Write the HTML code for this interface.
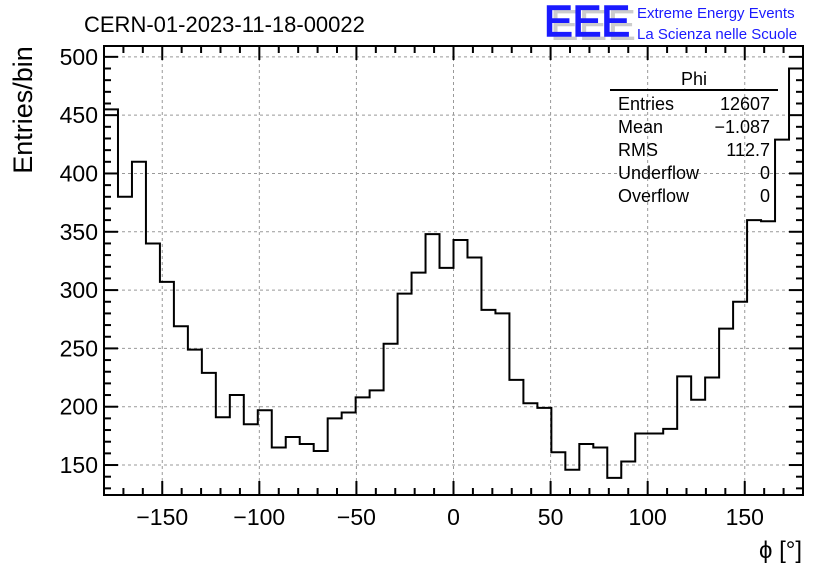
<!DOCTYPE html>
<html><head><meta charset="utf-8"><style>
body{margin:0;background:#fff;}
svg text{font-family:"Liberation Sans",Arial,sans-serif;}
</style></head><body>
<svg id="c" width="836" height="572" xmlns="http://www.w3.org/2000/svg">
<rect width="836" height="572" fill="#fff"/>
<g id="grid"></g>
<path id="hist" fill="none" stroke="#000" stroke-width="2"/>
<g id="axes"></g>
<text x="84" y="32" font-size="22">CERN-01-2023-11-18-00022</text>
<g>
<text x="550" y="40" font-size="44" fill="#ccc" textLength="86" lengthAdjust="spacingAndGlyphs">EEE</text>
<text x="544" y="36" font-size="44" fill="#1a1aff" stroke="#1a1aff" stroke-width="1.5" textLength="86" lengthAdjust="spacingAndGlyphs">EEE</text>
<text x="637" y="18" font-size="15" fill="#1a1aff">Extreme Energy Events</text>
<text x="637" y="39" font-size="15" fill="#1a1aff">La Scienza nelle Scuole</text>
</g>
<g font-size="18">
<text x="694" y="85" text-anchor="middle">Phi</text>
<line x1="610" y1="90" x2="778" y2="90" stroke="#000" stroke-width="2"/>
<text x="618" y="110">Entries</text><text x="770" y="110" text-anchor="end">12607</text>
<text x="618" y="133">Mean</text><text x="770" y="133" text-anchor="end">−1.087</text>
<text x="618" y="156">RMS</text><text x="770" y="156" text-anchor="end">112.7</text>
<text x="618" y="179">Underflow</text><text x="770" y="179" text-anchor="end">0</text>
<text x="618" y="202">Overflow</text><text x="770" y="202" text-anchor="end">0</text>
</g>
<text transform="translate(32,110) rotate(-90)" font-size="27" text-anchor="middle">Entries/bin</text>
<text x="802" y="558" font-size="24" text-anchor="end">ϕ [°]</text>
</svg>
<script>
const counts=[455,380,410,340,307,269,249,229,191,210,185,197,165,174,168,162,190,195,208,214,254,297,315,348,319,343,328,283,280,223,203,199,161,146,168,165,139,153,177,177,181,226,206,225,267,290,360,359,429,490];
const xTicks=[-150,-100,-50,0,50,100,150];
const yTicks=[150,200,250,300,350,400,450,500];
const X0=104,X1=803,Y0=495,Y1=46,xmin=-180,xmax=180,ymin=124.3,ymax=509.3;
const sx=v=>X0+(v-xmin)/(xmax-xmin)*(X1-X0);
const sy=v=>Y0-(v-ymin)/(ymax-ymin)*(Y0-Y1);
const NS="http://www.w3.org/2000/svg";
function mk(p,t,a){const e=document.createElementNS(NS,t);for(const k in a)e.setAttribute(k,a[k]);p.appendChild(e);return e;}
const grid=document.getElementById('grid'),axes=document.getElementById('axes');
xTicks.forEach(v=>{const l=mk(grid,'line',{x1:sx(v),x2:sx(v),y1:Y1,y2:Y0,stroke:'#999','stroke-dasharray':'3,3'});

});
yTicks.forEach(v=>{const l=mk(grid,'line',{x1:X0,x2:X1,y1:sy(v),y2:sy(v),stroke:'#999','stroke-dasharray':'3,3'});

});
const bw=(xmax-xmin)/counts.length;
let d='M'+sx(xmin)+','+Y0;
counts.forEach((c,i)=>{d+=' L'+sx(xmin+i*bw)+','+sy(c)+' L'+sx(xmin+(i+1)*bw)+','+sy(c);});
d+=' L'+sx(xmax)+','+Y0;
document.getElementById('hist').setAttribute('d',d);
mk(axes,'rect',{x:X0,y:Y1,width:X1-X0,height:Y0-Y1,fill:'none',stroke:'#000','stroke-width':2});
for(let v=-180;v<=180;v+=10){const maj=v%50===0;const h=maj?14:7;
mk(axes,'line',{x1:sx(v),x2:sx(v),y1:Y0,y2:Y0-h,stroke:'#000','stroke-width':2});
mk(axes,'line',{x1:sx(v),x2:sx(v),y1:Y1,y2:Y1+h,stroke:'#000','stroke-width':2});}
for(let v=130;v<=500;v+=10){const maj=v%50===0;const h=maj?14:7;
mk(axes,'line',{x1:X0,x2:X0+h,y1:sy(v),y2:sy(v),stroke:'#000','stroke-width':2});
mk(axes,'line',{x1:X1,x2:X1-h,y1:sy(v),y2:sy(v),stroke:'#000','stroke-width':2});}
xTicks.forEach(v=>{const t=mk(axes,'text',{x:sx(v),y:525,'font-size':23,'text-anchor':'middle'});t.textContent=(v<0?'−':'')+Math.abs(v);

});
yTicks.forEach(v=>{const t=mk(axes,'text',{x:98,y:sy(v)+8,'font-size':23,'text-anchor':'end'});t.textContent=v;

});
</script>
</body></html>
